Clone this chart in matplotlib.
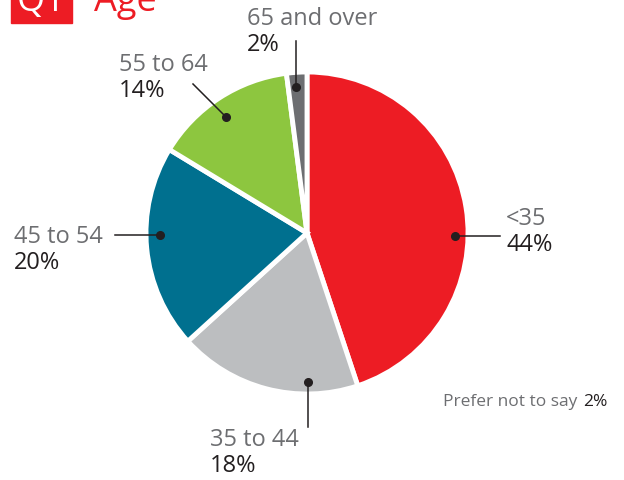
import matplotlib.pyplot as plt
from matplotlib.patches import Rectangle

plt.rcParams['font.family'] = ['Open Sans', 'DejaVu Sans']

# data
labels = ['<35', '35 to 44', '45 to 54', '55 to 64', '65 and over']
shares = [44, 18, 20, 14, 2]
colors = ['#ed1c24', '#bcbec0', '#00708f', '#8dc63f', '#6d6e71']
other_label = 'Prefer not to say'
other_share = 2

W, H = 624, 481
fig = plt.figure(figsize=(W / 100, H / 100), dpi=100)
ax = fig.add_axes([0, 0, 1, 1])

cx, cy, r = 307, H - 234, 161
ax.pie(shares, colors=colors, startangle=90, counterclock=False,
       center=(cx, cy), radius=r, explode=[0.03, 0, 0, 0, 0],
       wedgeprops=dict(edgecolor='white', linewidth=3.5))
ax.set_xlim(0, W)
ax.set_ylim(0, H)
ax.set_aspect('equal')
ax.axis('off')

# dot position, line end, label anchor (pixel coords, y from top)
callouts = [
    ((455, 237), (500, 237), (506, 219)),
    ((308, 383), (308, 428), (210, 440)),
    ((160, 236), (115, 236), (14, 237)),
    ((226, 118), (193, 85), (119, 65)),
    ((296, 88), (296, 42), (247, 19)),
]
grey = '#6d6e71'
dark = '#231f20'
for (lab, val, (dot, end, txt)) in zip(labels, shares, callouts):
    ax.plot([dot[0], end[0]], [H - dot[1], H - end[1]], color=dark, lw=1.1)
    ax.plot(dot[0], H - dot[1], 'o', color=dark, ms=5.5)
    ax.text(txt[0], H - txt[1], lab, color=grey, fontsize=17, ha='left', va='center')
    ax.text(txt[0], H - txt[1] - 26, f'{val}%', color=dark, fontsize=17, ha='left', va='center')

ax.text(443, H - 402, other_label, color=grey, fontsize=12.5, ha='left', va='center')
ax.text(583, H - 402, f'{other_share}%', color=dark, fontsize=12.5, ha='left', va='center')

# title, cut at the top edge
ax.add_patch(Rectangle((11, H - 24), 61, 40, color='#ed1c24', clip_on=False))
ax.text(41, H - 2, 'Q1', color='white', fontsize=26, ha='center', va='center')
ax.text(94, H - 2, 'Age', color='#ed1c24', fontsize=26, ha='left', va='center')

fig.savefig('out.png', dpi=100)
